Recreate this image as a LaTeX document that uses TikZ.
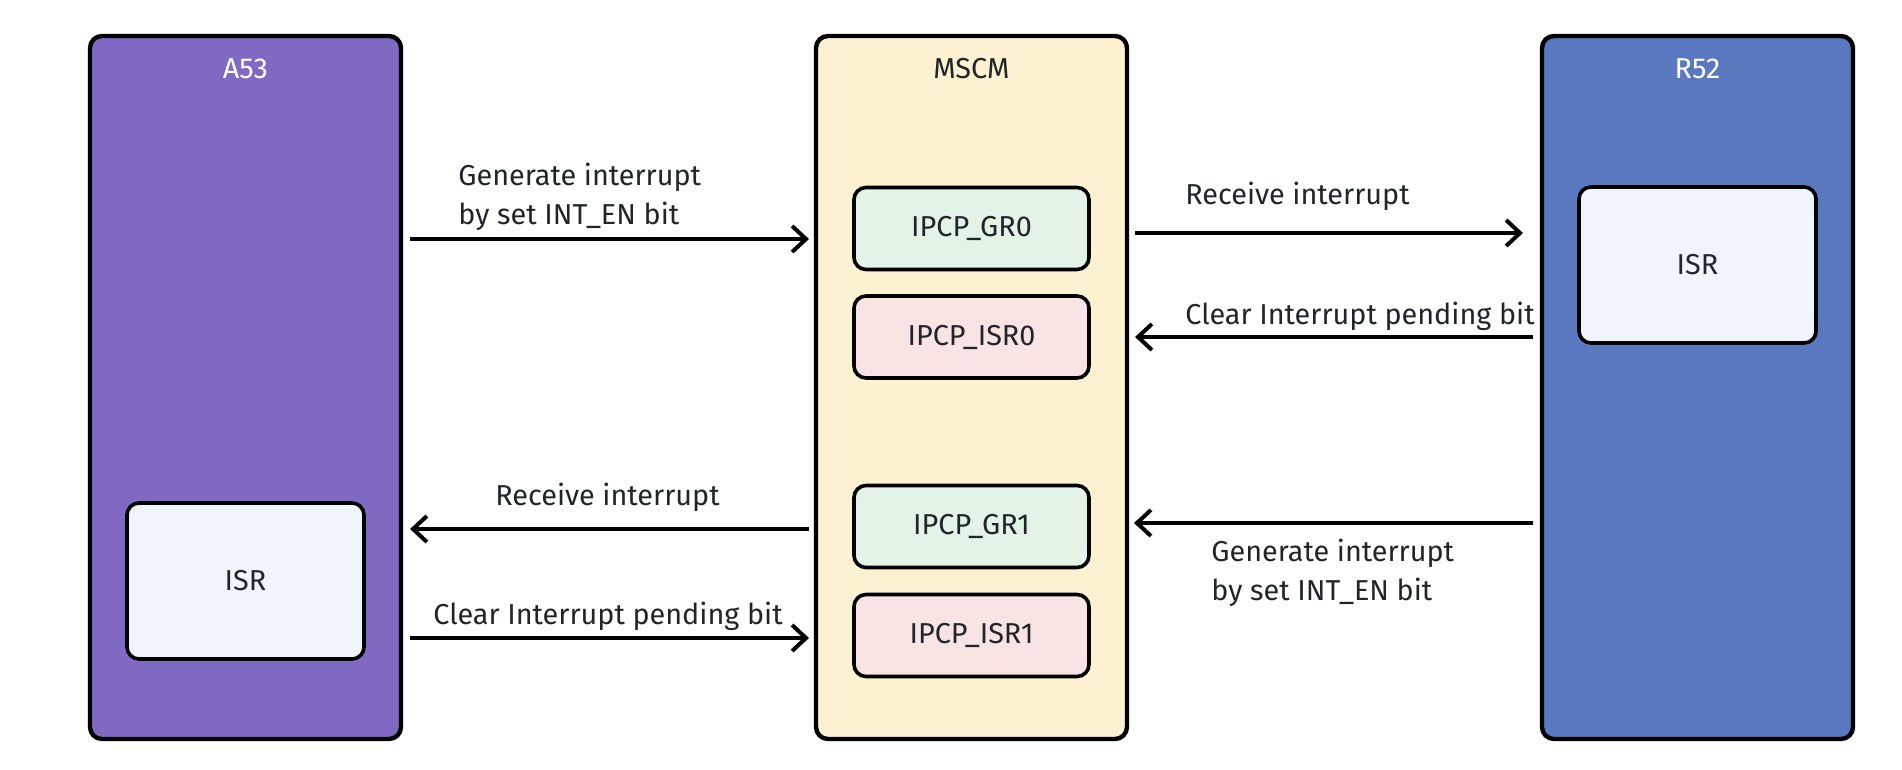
\documentclass[tikz,border=0pt]{standalone}
\usepackage{fontspec}
\setmainfont{Fira Sans}
\usetikzlibrary{arrows.meta,calc}
\definecolor{cpuA}{RGB}{128,105,194}
\definecolor{cpuR}{RGB}{90,120,192}
\definecolor{mscmbg}{RGB}{252,241,208}
\definecolor{grbg}{RGB}{227,243,229}
\definecolor{isrbg}{RGB}{249,228,228}
\definecolor{isrbox}{RGB}{240,244,252}
\definecolor{txt}{RGB}{33,37,41}

\begin{document}
\begin{tikzpicture}[x=0.5pt,y=-0.5pt,font=\fontsize{14.4}{19.5}\selectfont,
  core/.style={draw=black,line width=2.2pt,rounded corners=6pt,outer sep=0pt,
    minimum width=155.5pt,minimum height=351.5pt,inner sep=0pt},
  reg/.style={draw=black,line width=1.8pt,rounded corners=6pt,outer sep=0pt,
    minimum width=117.5pt,minimum height=41pt,text=txt},
  isr/.style={draw=black,line width=1.8pt,rounded corners=6pt,outer sep=0pt,
    fill=isrbox,minimum width=118.5pt,minimum height=78pt,text=txt},
  msg/.style={-{Straight Barb[length=7pt,width=13pt]},line width=2pt},
  lbl/.style={text=txt,inner sep=0pt,align=left,anchor=base west}]
\useasboundingbox (0,0) rectangle (1902,770);

\node[core,fill=cpuA] (a53) at (245.5,387.5) {};
\node[core,fill=mscmbg] (mscm) at (971.5,387.5) {};
\node[core,fill=cpuR] (r52) at (1697.5,387.5) {};
\node[anchor=base,text=white] (a53t) at (245.5,79) {A53};
\node[anchor=base,text=txt] (mscmt) at (971.5,79) {MSCM};
\node[anchor=base,text=white] (r52t) at (1697.5,79) {R52};

\foreach \n/\y/\c/\t in {gr0/228.5/grbg/IPCP\_GR0,isr0/337/isrbg/IPCP\_ISR0,
  gr1/526.5/grbg/IPCP\_GR1,isr1/635.5/isrbg/IPCP\_ISR1}
  { \node[reg,fill=\c] (\n) at (971.5,\y) {\t}; }
\node[isr] (r52isr) at (1697.5,265) {ISR};
\node[isr] (a53isr) at (245.5,581) {ISR};

\foreach \k/\y in {1/239,2/233,3/337,4/529,5/638,6/523} { \coordinate (y\k) at (0,\y); }
\draw[msg] ($(a53.east|-y1)+(9,0)$) -- ($(mscm.west|-y1)+(-7,0)$);
\draw[msg] ($(mscm.east|-y2)+(8,0)$) -- ($(r52.west|-y2)+(-19,0)$);
\draw[msg] ($(r52.west|-y3)+(-9,0)$) -- ($(mscm.east|-y3)+(8,0)$);
\draw[msg] ($(mscm.west|-y4)+(-7,0)$) -- ($(a53.east|-y4)+(9,0)$);
\draw[msg] ($(a53.east|-y5)+(9,0)$) -- ($(mscm.west|-y5)+(-7,0)$);
\draw[msg] ($(r52.west|-y6)+(-9,0)$) -- ($(mscm.east|-y6)+(7,0)$);

\node[lbl] (l1) at (458,225) {Generate interrupt\\by set INT\_EN bit};
\node[lbl] (l2) at (1185,205) {Receive interrupt};
\node[lbl] (l3) at (1185,325) {Clear Interrupt pending bit};
\node[lbl] (l4) at (495,505) {Receive interrupt};
\node[lbl] (l5) at (433,624) {Clear Interrupt pending bit};
\node[lbl] (l6) at (1211,600) {Generate interrupt\\by set INT\_EN bit};
\end{tikzpicture}
\end{document}
